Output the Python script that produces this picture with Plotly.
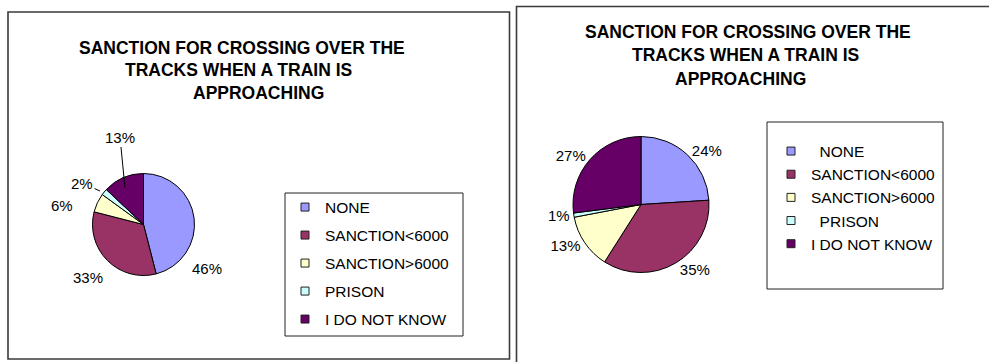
import plotly.graph_objects as go

# ---- data ----
categories = ["NONE", "SANCTION<6000", "SANCTION>6000", "PRISON", "I DO NOT KNOW"]
legend_left = ["NONE", "SANCTION<6000", "SANCTION>6000", "PRISON", "I DO NOT KNOW"]
legend_right = ["\u00a0\u00a0NONE", "SANCTION<6000", "SANCTION>6000", "\u00a0\u00a0PRISON", "I DO NOT KNOW"]
values_left = [46, 33, 6, 2, 13]
values_right = [24, 35, 13, 1, 27]
colors = ["#9999FF", "#993366", "#FFFFCC", "#CCFFFF", "#660066"]
title_lines = ["SANCTION FOR CROSSING OVER THE", "TRACKS WHEN A TRAIN IS", "APPROACHING"]

W, H = 989, 362
FONT = "Liberation Sans, Arial, sans-serif"


def px(x):
    return x / W


def py(y):
    return 1 - y / H


fig = go.Figure()

# pies
fig.add_trace(go.Pie(
    labels=categories, values=values_left, sort=False, direction="clockwise",
    marker=dict(colors=colors, line=dict(color="black", width=1)),
    textinfo="none",
    domain=dict(x=[px(143.5 - 51), px(143.5 + 51)], y=[py(224.5 + 51), py(224.5 - 51)]),
    showlegend=False, hoverinfo="label+percent",
))
fig.add_trace(go.Pie(
    labels=categories, values=values_right, sort=False, direction="clockwise",
    marker=dict(colors=colors, line=dict(color="black", width=1)),
    textposition="outside", texttemplate="%{percent:.0%}",
    textfont=dict(family=FONT, size=15, color="black"),
    domain=dict(x=[px(641 - 68), px(641 + 68)], y=[py(204.5 + 68), py(204.5 - 68)]),
    showlegend=False, hoverinfo="label+percent",
))

# legend entries
for i, (name, c) in enumerate(zip(legend_left, colors)):
    fig.add_trace(go.Scatter(
        x=[None], y=[None], mode="markers", name=name, legend="legend",
        legendgroup="L%d" % i,
        marker=dict(symbol="square", size=8, color=c, line=dict(color="#222", width=1)),
    ))
for i, (name, c) in enumerate(zip(legend_right, colors)):
    fig.add_trace(go.Scatter(
        x=[None], y=[None], mode="markers", name=name, legend="legend2",
        legendgroup="R%d" % i,
        marker=dict(symbol="square", size=8, color=c, line=dict(color="#222", width=1)),
    ))

annotations = []

# left pie data labels (manually placed in the original chart)
total_left = sum(values_left)
left_label_pos = [(207, 268), (88, 277), (62, 205), (82, 183), (120, 137)]
left_leader_tip = [None, None, None, (100, 191), (125, 188)]
for v, (x, y), tip in zip(values_left, left_label_pos, left_leader_tip):
    txt = "%d%%" % round(100 * v / total_left)
    if tip is None:
        annotations.append(dict(text=txt, x=px(x), y=py(y), xref="paper", yref="paper",
                                xanchor="center", yanchor="middle", showarrow=False,
                                font=dict(family=FONT, size=15, color="black")))
    else:
        annotations.append(dict(text=txt, x=px(tip[0]), y=py(tip[1]), xref="paper", yref="paper",
                                ax=x - tip[0], ay=y - tip[1], axref="pixel", ayref="pixel",
                                xanchor="center", yanchor="middle", showarrow=True,
                                arrowhead=0, arrowwidth=1, arrowcolor="black", standoff=0,
                                font=dict(family=FONT, size=15, color="black")))

# titles
left_title_pos = [(242, 47.5), (238, 70), (258, 93)]
right_title_pos = [(748, 32), (745, 55), (740, 79)]
for line, (x, y) in zip(title_lines, left_title_pos):
    annotations.append(dict(text="<b>%s</b>" % line, x=px(x), y=py(y), xref="paper", yref="paper",
                            xanchor="center", yanchor="middle", showarrow=False,
                            font=dict(family=FONT, size=17.5, color="black")))
for line, (x, y) in zip(title_lines, right_title_pos):
    annotations.append(dict(text="<b>%s</b>" % line, x=px(x), y=py(y), xref="paper", yref="paper",
                            xanchor="center", yanchor="middle", showarrow=False,
                            font=dict(family=FONT, size=17.5, color="black")))

border = dict(color="#3a3a3a", width=1.6)
shapes = [
    dict(type="rect", xref="paper", yref="paper", x0=px(8), x1=px(509.5), y0=py(359), y1=py(12), line=border),
    dict(type="rect", xref="paper", yref="paper", x0=px(516.5), x1=px(1010), y0=py(380), y1=py(6.5), line=border),
    dict(type="rect", xref="paper", yref="paper", x0=px(285), x1=px(463), y0=py(336), y1=py(193),
         line=dict(color="#222", width=1)),
    dict(type="rect", xref="paper", yref="paper", x0=px(767), x1=px(943), y0=py(289), y1=py(122),
         line=dict(color="#222", width=1)),
]

fig.update_layout(
    width=W, height=H, margin=dict(l=0, r=0, t=0, b=0),
    paper_bgcolor="white", plot_bgcolor="white",
    xaxis=dict(visible=False), yaxis=dict(visible=False),
    annotations=annotations, shapes=shapes,
    legend=dict(x=px(285), y=py(190.5), xanchor="left", yanchor="top",
                bgcolor="rgba(0,0,0,0)", borderwidth=0, traceorder="grouped", tracegroupgap=4.85,
                font=dict(family=FONT, size=15.5, color="black")),
    legend2=dict(x=px(771), y=py(134.5), xanchor="left", yanchor="top",
                 bgcolor="rgba(0,0,0,0)", borderwidth=0, traceorder="grouped", tracegroupgap=0,
                 font=dict(family=FONT, size=15.5, color="black")),
    showlegend=True,
)

fig.write_html("out.html")
